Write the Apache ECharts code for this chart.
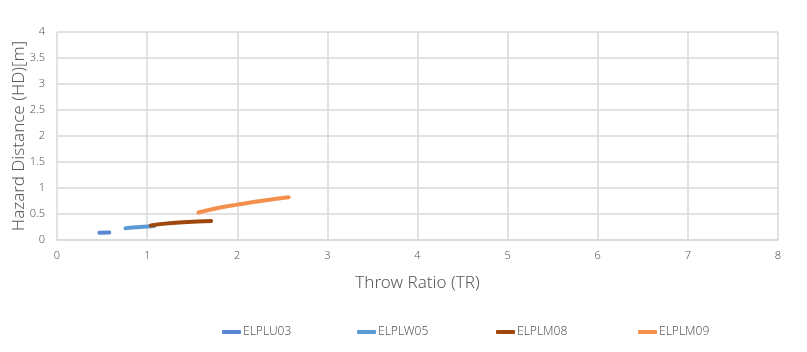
<!DOCTYPE html>
<html>
<head>
<meta charset="utf-8">
<script src="https://cdn.jsdelivr.net/npm/echarts@6/dist/echarts.min.js"></script>
<style>
  html, body { margin: 0; padding: 0; background: #fff; }
  #chart { width: 807px; height: 352px; }
</style>
</head>
<body>
<div id="chart"></div>
<script>
// data: [throw ratio, hazard distance]
var seriesNames = ['ELPLU03', 'ELPLW05', 'ELPLM08', 'ELPLM09'];
var elplu03 = [[0.47, 0.14], [0.58, 0.145]];
var elplw05 = [[0.76, 0.225], [0.92, 0.25], [1.08, 0.27]];
var elplm08 = [[1.04, 0.28], [1.2, 0.315], [1.4, 0.34], [1.71, 0.365]];
var elplm09 = [[1.57, 0.53], [1.8, 0.62], [2.0, 0.68], [2.3, 0.76], [2.57, 0.82]];
var colors = ['#5b86d4', '#5b9bd5', '#9e480e', '#f4904e'];
var legendLeft = [217, 352, 491, 633];

var chart = echarts.init(document.getElementById('chart'));
var font = '"Noto Sans", sans-serif';

function makeSeries(name, data, color) {
    return {
        name: name,
        type: 'line',
        data: data,
        smooth: true,
        symbol: 'none',
        lineStyle: { width: 4, color: color, cap: 'round' },
        itemStyle: { color: color }
    };
}

// one legend per item so the spacing matches the picture
var legends = seriesNames.map(function(name, i) {
    return {
        data: [{ name: name, icon: 'roundRect' }],
        left: legendLeft[i],
        top: 321,
        itemWidth: 19,
        itemHeight: 4,
        itemGap: 0,
        textStyle: { color: '#595959', fontSize: 12, fontFamily: font, fontWeight: 300, padding: [0, 0, 0, -3] }
    };
});

var option = {
    animation: false,
    grid: { left: 57, right: 29, top: 32, bottom: 112, outerBoundsMode: 'none' },
    legend: legends,
    xAxis: {
        type: 'value',
        min: 0, max: 8, interval: 1,
        name: 'Throw Ratio (TR)',
        nameLocation: 'middle',
        nameGap: 35,
        nameMoveOverlap: false,
        nameTextStyle: { color: '#595959', fontSize: 17, fontFamily: font, fontWeight: 300 },
        axisLine: { lineStyle: { color: '#d9d9d9', width: 1.5 } },
        axisTick: { show: false },
        axisLabel: { color: '#595959', fontSize: 11, fontFamily: font, fontWeight: 300, margin: 10 },
        splitLine: { lineStyle: { color: '#d9d9d9', width: 1.5 } }
    },
    yAxis: {
        type: 'value',
        min: 0, max: 4, interval: 0.5,
        name: 'Hazard Distance (HD)[m]',
        nameLocation: 'middle',
        nameGap: 29,
        nameMoveOverlap: false,
        nameTextStyle: { color: '#595959', fontSize: 17, fontFamily: font, fontWeight: 300 },
        axisLine: { show: false },
        axisTick: { show: false },
        axisLabel: { color: '#595959', fontSize: 11, fontFamily: font, fontWeight: 300, margin: 12 },
        splitLine: { lineStyle: { color: '#d9d9d9', width: 1.5 } }
    },
    series: [
        makeSeries(seriesNames[0], elplu03, colors[0]),
        makeSeries(seriesNames[1], elplw05, colors[1]),
        makeSeries(seriesNames[2], elplm08, colors[2]),
        makeSeries(seriesNames[3], elplm09, colors[3])
    ]
};

chart.setOption(option);
</script>
</body>
</html>
